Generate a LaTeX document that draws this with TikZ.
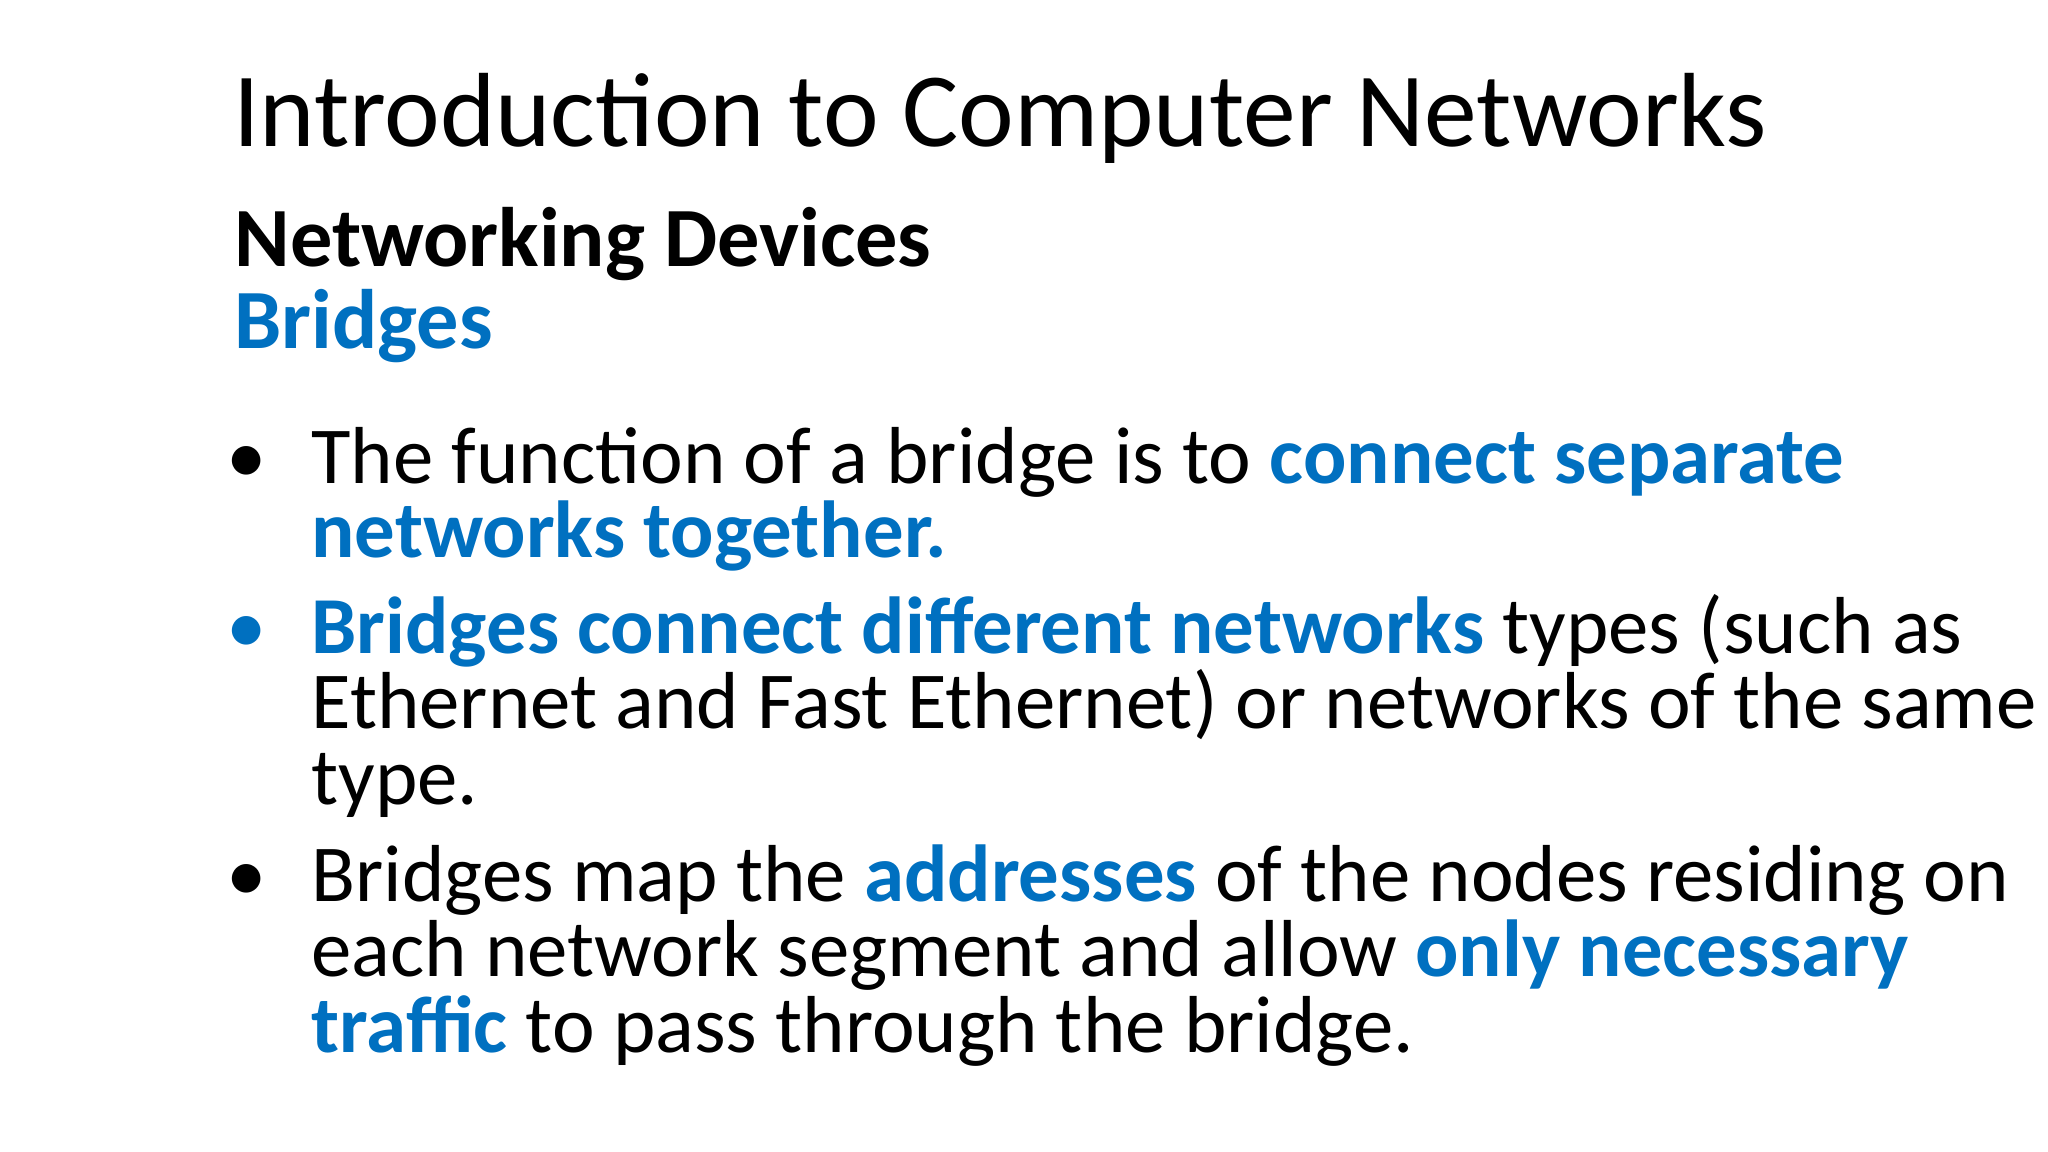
\documentclass[tikz,border=0pt]{standalone}
\usepackage{fontspec}
\setmainfont{Carlito}
\definecolor{ppblue}{RGB}{0,112,192}
\begin{document}
\begin{tikzpicture}[x=0.01306cm,y=-0.01306cm,
  ln/.style={anchor=base west,inner sep=0pt,font=\fontsize{23}{28}\selectfont},
  bl/.style={anchor=base,inner sep=0pt,font=\fontsize{23}{28}\selectfont}]
\useasboundingbox[fill=white] (0,0) rectangle (1568,882);
\node[anchor=base west,inner sep=0pt,font=\fontsize{30}{36}\selectfont] (title) at (178,112) {Introduction to Computer Networks};
\node[anchor=base west,inner sep=0pt,font=\fontsize{24}{29}\selectfont\bfseries] (sub) at (179,204) {Networking Devices};
\node[anchor=base west,inner sep=0pt,font=\fontsize{24}{29}\selectfont\bfseries,text=ppblue] (br) at (179,267) {Bridges};
\node[bl] (b1) at (189,370) {•};
\node[ln] (l1) at (238,370) {The function of a bridge is to \textbf{\color{ppblue}connect separate}};
\node[ln] (l2) at (238,427) {\textbf{\color{ppblue}networks together.}};
\node[bl,text=ppblue] (b2) at (189,500) {•};
\node[ln] (l3) at (238,500) {\textbf{\color{ppblue}Bridges connect different networks} types (such as};
\node[ln] (l4) at (238,558) {Ethernet and Fast Ethernet) or networks of the same};
\node[ln] (l5) at (238,616) {type.};
\node[bl] (b3) at (189,690) {•};
\node[ln] (l6) at (238,690) {Bridges map the \textbf{\color{ppblue}addresses} of the nodes residing on};
\node[ln] (l7) at (238,748) {each network segment and allow \textbf{\color{ppblue}only necessary}};
\node[ln] (l8) at (238,806) {\textbf{\color{ppblue}traffic} to pass through the bridge.};
\end{tikzpicture}
\end{document}
